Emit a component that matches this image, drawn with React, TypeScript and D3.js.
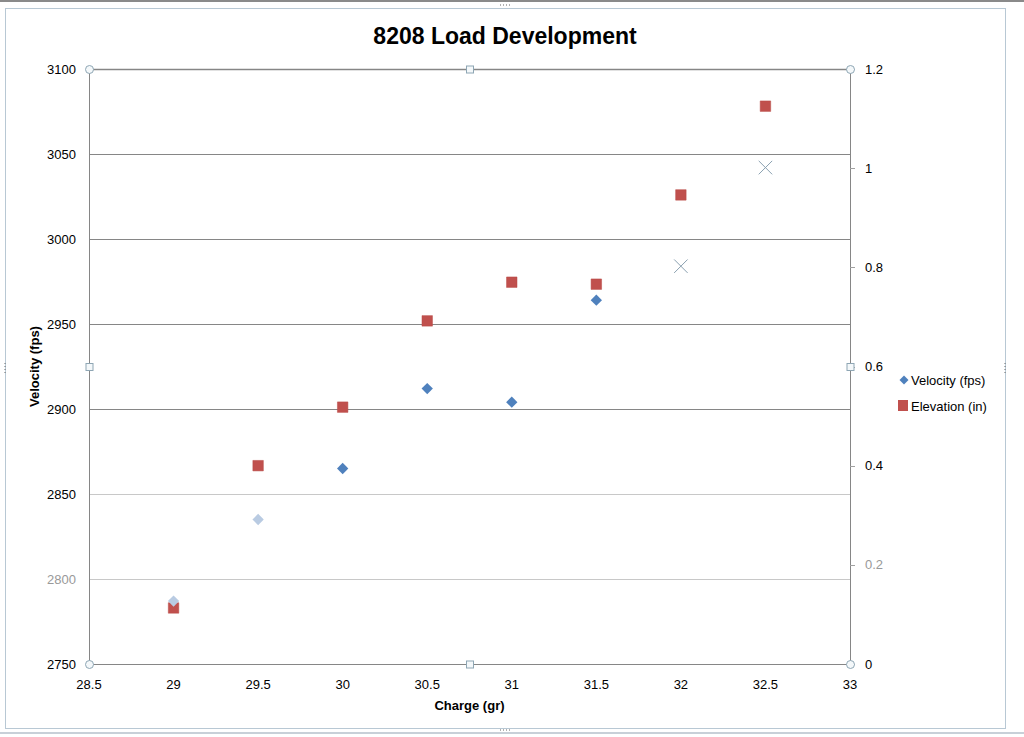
import React, { useEffect, useRef } from 'react';
import * as d3 from 'd3';

// chart values
const charges = [29, 29.5, 30, 30.5, 31, 31.5, 32, 32.5];
const velocity = [2787, 2835, 2865, 2912, 2904, 2964, 2984, 3042];
const elevation = [0.113, 0.4, 0.518, 0.692, 0.77, 0.766, 0.946, 1.125];
// how each velocity marker looks in the picture (some faded, some drawn as x)
const velocityStyle = ['faded', 'faded', 'solid', 'solid', 'solid', 'solid', 'cross', 'cross'];

const xTicks = [28.5, 29, 29.5, 30, 30.5, 31, 31.5, 32, 32.5, 33];
const leftTicks = [2750, 2800, 2850, 2900, 2950, 3000, 3050, 3100];
const rightTicks = [0, 0.2, 0.4, 0.6, 0.8, 1, 1.2];

const W = 1024;
const H = 737;
const margin = { top: 69, right: 174, bottom: 73, left: 89 };
const FONT = '"Liberation Sans", Arial, sans-serif';
const BLUE = '#4f81bd';
const RED = '#c0504d';

const App: React.FC = () => {
  const svgRef = useRef<SVGSVGElement>(null);

  useEffect(() => {
    if (!svgRef.current) return;
    const svg = d3.select(svgRef.current);
    svg.selectAll('*').remove();

    const x0 = margin.left;
    const x1 = W - margin.right;
    const y0 = H - margin.bottom;
    const y1 = margin.top;

    const x = d3.scaleLinear().domain([28.5, 33]).range([x0, x1]);
    const yL = d3.scaleLinear().domain([2750, 3100]).range([y0, y1]);
    const yR = d3.scaleLinear().domain([0, 1.2]).range([y0, y1]);

    svg.append('rect').attr('width', W).attr('height', H).attr('fill', '#fff');

    // outer chart frame
    svg.append('rect')
      .attr('x', 5.5).attr('y', 8.5)
      .attr('width', 1000).attr('height', 720)
      .attr('fill', 'none')
      .attr('stroke', '#b8c8d4');
    svg.append('line')
      .attr('x1', 0).attr('x2', W).attr('y1', 1).attr('y2', 1)
      .attr('stroke', '#8a8a8a').attr('stroke-width', 2);
    svg.append('line')
      .attr('x1', 0).attr('x2', W).attr('y1', 733).attr('y2', 733)
      .attr('stroke', '#c8d0d8').attr('stroke-width', 2);
    // little grip dots on the frame
    const grips: [number, number, boolean][] = [[505, 5, true], [505, 730, true], [5, 368, false], [1005, 368, false]];
    grips.forEach(([gx, gy, horiz]) => {
      for (let i = -3; i <= 3; i += 2) {
        svg.append('rect')
          .attr('x', horiz ? gx + i * 1.5 - 0.5 : gx - 0.5)
          .attr('y', horiz ? gy - 0.5 : gy + i * 1.5 - 0.5)
          .attr('width', 1).attr('height', 1)
          .attr('fill', '#666');
      }
    });

    // title
    svg.append('text')
      .attr('x', 505).attr('y', 44)
      .attr('text-anchor', 'middle')
      .attr('font-family', FONT)
      .attr('font-size', 23)
      .attr('font-weight', 'bold')
      .attr('fill', '#000')
      .text('8208 Load Development');

    // gridlines
    const g = svg.append('g');
    leftTicks.forEach(t => {
      const faded = t === 2800 || t === 2850;
      g.append('line')
        .attr('x1', x0).attr('x2', x1)
        .attr('y1', Math.round(yL(t)) + 0.5).attr('y2', Math.round(yL(t)) + 0.5)
        .attr('stroke', faded ? '#c8c8c8' : '#868686')
        .attr('stroke-width', t === 3100 ? 1.5 : 1);
    });

    // axis lines
    g.append('line')
      .attr('x1', x0 + 0.5).attr('x2', x0 + 0.5).attr('y1', y1).attr('y2', y0)
      .attr('stroke', '#868686');
    g.append('line')
      .attr('x1', x1 + 0.5).attr('x2', x1 + 0.5).attr('y1', y1).attr('y2', y0)
      .attr('stroke', '#868686');

    // right axis minor tick marks
    rightTicks.forEach(t => {
      g.append('line')
        .attr('x1', x1).attr('x2', x1 + 5)
        .attr('y1', Math.round(yR(t)) + 0.5).attr('y2', Math.round(yR(t)) + 0.5)
        .attr('stroke', '#a0a0a0');
    });

    // tick labels
    const labels = svg.append('g')
      .attr('font-family', FONT)
      .attr('font-size', 13);
    leftTicks.forEach(t => {
      labels.append('text')
        .attr('x', x0 - 13).attr('y', yL(t))
        .attr('dy', '0.35em')
        .attr('text-anchor', 'end')
        .attr('fill', t === 2800 ? '#999' : '#000')
        .text(String(t));
    });
    rightTicks.forEach(t => {
      labels.append('text')
        .attr('x', x1 + 15).attr('y', yR(t))
        .attr('dy', '0.35em')
        .attr('text-anchor', 'start')
        .attr('fill', t === 0.2 ? '#999' : '#000')
        .text(d3.format('~g')(t));
    });
    xTicks.forEach(t => {
      labels.append('text')
        .attr('x', x(t)).attr('y', y0 + 25)
        .attr('text-anchor', 'middle')
        .attr('fill', '#000')
        .text(String(t));
    });

    // axis titles
    svg.append('text')
      .attr('x', x((28.5 + 33) / 2)).attr('y', 710)
      .attr('text-anchor', 'middle')
      .attr('font-family', FONT)
      .attr('font-size', 13)
      .attr('font-weight', 'bold')
      .text('Charge (gr)');
    svg.append('text')
      .attr('transform', `translate(39,${(y0 + y1) / 2}) rotate(-90)`)
      .attr('text-anchor', 'middle')
      .attr('font-family', FONT)
      .attr('font-size', 13)
      .attr('font-weight', 'bold')
      .text('Velocity (fps)');

    // selection handles on the plot area
    const corners: [number, number][] = [[x0, y1], [x1, y1], [x0, y0], [x1, y0]];
    corners.forEach(([cx, cy]) => {
      svg.append('circle')
        .attr('cx', cx + 0.5).attr('cy', cy + 0.5).attr('r', 4)
        .attr('fill', '#f4f8fa')
        .attr('stroke', '#8ea6b4');
    });
    const mids: [number, number][] = [[(x0 + x1) / 2, y1], [(x0 + x1) / 2, y0], [x0, (y0 + y1) / 2], [x1, (y0 + y1) / 2]];
    mids.forEach(([mx, my]) => {
      svg.append('rect')
        .attr('x', mx - 3).attr('y', my - 3)
        .attr('width', 7).attr('height', 7)
        .attr('fill', '#f4f8fa')
        .attr('stroke', '#8ea6b4');
    });

    // elevation squares
    const diamond = d3.symbol().type(d3.symbolSquare).size(64);
    const sq = d3.symbol().type(d3.symbolSquare).size(110);
    const cross = d3.symbol().type(d3.symbolX).size(120);

    svg.append('g')
      .selectAll('path')
      .data(charges)
      .join('path')
      .attr('d', sq)
      .attr('transform', (d, i) => `translate(${x(d)},${yR(elevation[i])})`)
      .attr('fill', RED)
      .attr('stroke', '#b84a47')
      .attr('stroke-width', 0.5);

    // velocity markers
    const vg = svg.append('g');
    charges.forEach((c, i) => {
      const style = velocityStyle[i];
      if (style === 'cross') {
        vg.append('path')
          .attr('d', cross)
          .attr('transform', `translate(${x(c)},${yL(velocity[i])})`)
          .attr('fill', 'none')
          .attr('stroke', '#8aa0b0')
          .attr('stroke-width', 1);
      } else {
        vg.append('path')
          .attr('d', diamond)
          .attr('transform', `translate(${x(c)},${yL(velocity[i])}) rotate(45)`)
          .attr('fill', style === 'faded' ? '#b9cbe2' : BLUE);
      }
    });

    // legend
    const lg = svg.append('g')
      .attr('font-family', FONT)
      .attr('font-size', 13);
    lg.append('path')
      .attr('d', d3.symbol().type(d3.symbolSquare).size(40))
      .attr('transform', 'translate(904,380) rotate(45)')
      .attr('fill', BLUE);
    lg.append('text')
      .attr('x', 911).attr('y', 380).attr('dy', '0.35em')
      .text('Velocity (fps)');
    lg.append('rect')
      .attr('x', 898).attr('y', 400)
      .attr('width', 10).attr('height', 11)
      .attr('fill', RED);
    lg.append('text')
      .attr('x', 911).attr('y', 406).attr('dy', '0.35em')
      .text('Elevation (in)');
  }, []);

  return (
    <div style={{ position: 'fixed', left: 0, top: 0 }}>
      <svg ref={svgRef} width={W} height={H} viewBox={`0 0 ${W} ${H}`} style={{ display: 'block' }} />
    </div>
  );
};

export default App;
